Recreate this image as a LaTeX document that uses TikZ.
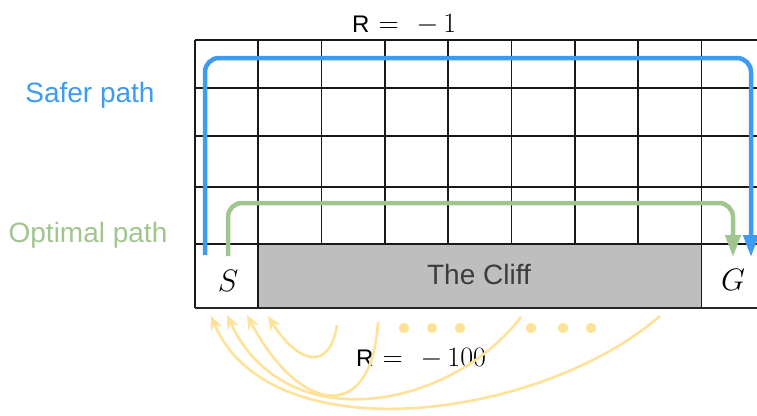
\RequirePackage{fix-cm}
\documentclass[tikz,border=0pt]{standalone}
\usepackage{fontspec}
\setsansfont{Liberation Sans}
\usetikzlibrary{arrows.meta}
\definecolor{cbleu}{RGB}{62,155,242}
\definecolor{cvert}{RGB}{160,197,142}
\definecolor{cjaune}{RGB}{255,226,154}
\definecolor{cfalaise}{RGB}{190,190,190}
\definecolor{ctexte}{RGB}{60,60,60}
\newcommand\grandtxt{\fontsize{28}{32}\selectfont}
\newcommand\moyentxt{\fontsize{24}{28}\selectfont}
\newcommand\mathtxt{\fontsize{28}{32}\selectfont}
\newcommand\etattxt{\fontsize{31}{35}\selectfont}
\newcommand\recomp[1]{\moyentxt\sffamily R\mathtxt\hspace{9pt}$=$\hspace{18pt}$-$\hspace{5pt}$#1$}

\begin{document}
\begin{tikzpicture}[x=1pt, y=-1pt, >=Stealth,
  grille/.style={line width=1.7pt, black!90},
  chemin/.style={line width=4.5pt, rounded corners=14pt, -{Triangle[width=15pt,length=22pt]}},
  saut/.style={line width=2.6pt, cjaune, -{Stealth[width=12pt,length=14pt]}},
  lbl/.style={inner sep=0pt, anchor=base}]
\useasboundingbox (0,0) rectangle (757,415);
% grid
\fill[cfalaise] (258.3,244) rectangle (701.4,308);
\foreach \y in {40,88,136,187,244} \draw[grille] (195,\y) -- (757,\y);
\foreach \i in {0,...,8} \draw[grille] (195+63.3*\i,40) -- (195+63.3*\i,244);
\foreach \x in {195,258.3,701.4} \draw[grille] (\x,244) -- (\x,308);
\draw[line width=2.2pt, black!85] (195,308) -- (757,308);
\node[lbl, text=ctexte] (cliff) at (479,284) {\sffamily\grandtxt The Cliff};
\node[lbl] (S) at (228,291) {\etattxt$S$};
\node[lbl] (G) at (733,290) {\etattxt$G$};
% paths
\node[lbl, text=cbleu] (safer) at (90,102) {\sffamily\grandtxt Safer path};
\node[lbl, text=cvert] (optimal) at (88,242) {\sffamily\grandtxt Optimal path};
\coordinate (b0) at (205,255); \coordinate (b1) at (751,257);
\coordinate (v0) at (228,256); \coordinate (v1) at (733,257);
\draw[chemin, cbleu] (b0) -- (b0 |- 0,58) -- (b1 |- 0,58) -- (b1);
\draw[chemin, cvert] (v0) -- (v0 |- 0,203) -- (v1 |- 0,203) -- (v1);
% rewards
\node[lbl, anchor=base west] (rhaut) at (352,32) {\recomp{1}};
\node[lbl, anchor=base west] (rbas) at (356,366) {\recomp{100}};
% falls into the cliff
\coordinate (t1) at (268,316); \coordinate (t2) at (247,315);
\coordinate (t3) at (227,315); \coordinate (t4) at (211,316);
\coordinate (d1) at (337,325); \coordinate (d2) at (378,322);
\coordinate (d3) at (521,317); \coordinate (d4) at (660,316);
\draw[saut] (d1) .. controls (330,372) and (298,364) .. (t1);
\draw[saut] (d2) .. controls (372,425) and (300,415) .. (t2);
\draw[saut] (d3) .. controls (450,410) and (285,440) .. (t3);
\draw[saut] (d4) .. controls (540,420) and (270,455) .. (t4);
\foreach \x in {404,432,460,531,563,591}
  \fill[cjaune] (\x,328) circle (5.2pt);
\end{tikzpicture}
\end{document}
